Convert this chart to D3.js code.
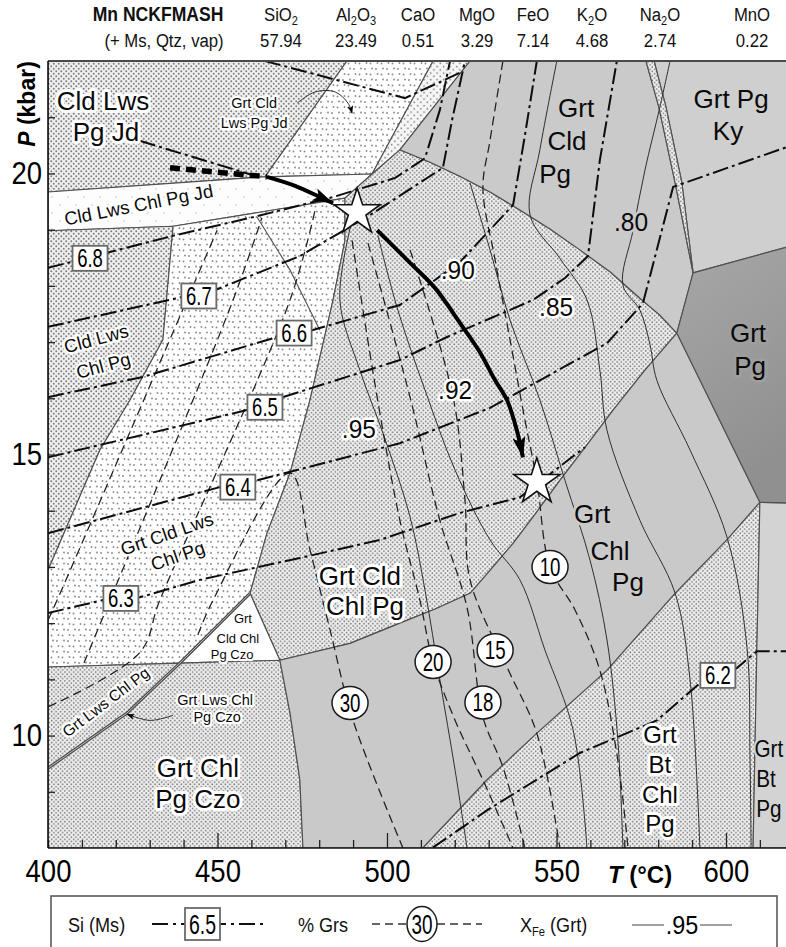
<!DOCTYPE html>
<html><head><meta charset="utf-8"><title>Mn NCKFMASH pseudosection</title>
<script src="https://cdn.jsdelivr.net/npm/d3@7/dist/d3.min.js"></script>
<style>
html,body{margin:0;padding:0;background:#fff;}
svg{display:block;}
</style></head><body>
<svg id="fig" width="786" height="947"></svg>
<script>
// ---------------- axis tick labels ----------------
const tempTickLabels = [400, 450, 500, 550, 600];
const pressureTickLabels = [10, 15, 20];

// ---------------- bulk composition (wt%) ----------------
const oxides = ["SiO2", "Al2O3", "CaO", "MgO", "FeO", "K2O", "Na2O", "MnO"];
const oxideWt = ["57.94", "23.49", "0.51", "3.29", "7.14", "4.68", "2.74", "0.22"];

// ---------------- field boundaries, [T °C, P kbar] ----------------
const upperArc = [[503.8,20.42],[512.7,20.20],[521.5,19.95],[530.4,19.67],[539.2,19.35],[548.1,19.01],[556.9,18.64],[565.8,18.25],[574.6,17.78],[580.5,17.48],[585.5,17.16]];
const lowerArc = [[585.5,17.16],[576.1,16.50],[566.7,15.79],[559.0,15.17],[551.0,14.54],[544.2,13.98],[537.2,13.42],[530.4,12.94],[524.5,12.53],[514.2,12.25],[503.8,12.00],[489.1,11.64],[468.4,11.34]];
const w2TopEdge = [[436.9,19.06],[462.5,19.31],[487.6,19.56]];
const w2LeftEdge = [[436.9,19.06],[433.9,17.04],[424.2,15.97],[415.3,15.08],[400,12.94]];
const w2RightEdge = [[459.6,12.53],[464.6,13.60],[471.4,14.67],[477.3,15.97],[484.1,17.75],[487.6,18.81],[487.6,19.56]];
const btInLine = [[610.0,14.15],[600.3,13.48],[585.0,12.53],[564.9,11.16],[544.2,10.04],[529.5,9.21],[510.6,8.0]];
const g3LeftEdge = [[468.4,11.34],[471.4,10.40],[474.3,9.21],[475.2,8.0]];
const btRightEdge = [[610.0,14.15],[609.1,11.52],[608.0,8.0]];
const czoDiagonal = [[400,9.42],[423.3,10.40],[438.9,11.29],[459.6,12.53]];
const kyBandLeft = [[576.4,22],[580.2,21.18],[585.0,19.83],[590.3,18.23]];
const kyBandRight = [[578.8,22],[582.3,21.18],[587.0,19.83],[590.3,18.23]];
const grtPgField = [[590.3,18.23],[618,18.69],[618,14.14],[610.0,14.15],[585.5,17.16]];
const cldLwsPgJdField = [[400,22],[488.2,22],[464.0,19.94],[400,19.67]];
const grtCldLwsPgJdField = [[488.2,22],[513.6,22],[495.6,19.99],[464.0,19.94]];
const upperBandField = [[513.6,22],[524.5,22],[503.8,20.42],[495.6,19.99]];
const czoTriangle = [[459.6,12.53],[468.4,11.34],[438.9,11.29]];
const grtLwsChlPgField = [[400,11.22],[438.9,11.29],[423.3,10.40],[400,9.42]];
const grtChlPgCzoField = [[400,9.42],[423.3,10.40],[438.9,11.29],[468.4,11.34],[471.4,10.40],[474.3,9.21],[475.2,8.0],[400,8.0]];
const grtBtPgField = [[610.0,14.15],[618,14.14],[618,8.0],[608.0,8.0],[609.1,11.52]];
const innerBoundary = [[461.7,19.22],[471.4,18.28],[480.2,17.21]];

// ---------------- Si (Ms) isopleths ----------------
const si69a = [[464.0,22],[505.3,21.34],[521.5,21.79]];
const si69b = [[427.1,20.58],[463.1,19.92]];
const si68 = [[400,18.32],[436.9,18.89],[461.7,19.24],[484.1,19.58],[502.4,19.92],[511.2,20.27],[515.6,21.13],[518.6,22]];
const si67 = [[400,17.27],[439.5,17.80],[449.9,17.94],[474.3,18.53],[495.0,19.26],[516.5,20.10],[519.2,20.95],[523.0,22]];
const si66 = [[400,16.02],[428.0,16.38],[467.6,17.09],[477.9,17.21],[503.8,17.66],[521.5,18.42],[537.2,19.44],[540.7,20.68],[544.2,22]];
const si65 = [[400,14.95],[458.7,15.79],[469.3,16.02],[503.8,16.68],[517.7,17.09],[543.1,17.75],[552.5,18.14],[559.3,18.53],[562.8,20.24],[567.8,22]];
const si64 = [[400,13.60],[450.7,14.42],[461.7,14.54],[503.8,15.20],[530.4,15.83],[564.9,16.98],[575.5,17.69],[584.4,19.76],[618,20.47]];
const si63 = [[400,12.18],[416.2,12.41],[427.1,12.46],[444.8,12.77],[474.3,13.16],[497.9,13.48],[521.5,13.96],[539.2,14.24],[558.4,15.13]];
const si62 = [[513.6,8.01],[529.5,8.67],[556.9,9.69],[579.6,10.27],[592.3,10.93],[603.2,11.20],[609.1,11.50],[618,11.50]];
const siLabels = [["6.8",412.4,18.49],["6.7",444.5,17.82],["6.6",472.6,17.16],["6.5",464.0,15.84],["6.4",456.0,14.42],["6.3",421.5,12.44],["6.2",597.6,11.07]];

// ---------------- % grossular isopleths ----------------
const grsA = [[400,12.05],[402.7,12.41],[441.0,17.75],[449.9,18.99]];
const grsB = [[410.6,11.29],[418.3,12.41],[454.6,17.75],[463.1,19.21]];
const grsC = [[400,10.51],[427.1,11.48],[433.0,12.41],[471.4,17.75],[478.8,19.35]];
const grs30 = [[444.2,11.79],[448.7,12.41],[471.4,14.67],[477.3,13.30],[483.2,11.88],[490.0,10.27],[504.7,8.0]];
const grs20 = [[489.7,18.81],[497.1,16.02],[503.8,13.83],[509.7,12.41],[513.6,11.31],[520.1,10.27],[528.3,9.21],[537.2,8.0]];
const grs18 = [[494.4,18.76],[506.8,16.02],[515.6,13.83],[523.6,12.28],[528.3,10.33],[534.2,9.44],[540.7,8.0]];
const grs15 = [[506.8,18.64],[519.5,16.02],[523.0,14.19],[524.5,12.77],[535.4,11.22],[544.2,10.04],[551.0,8.0]];
const grs10 = [[534.2,22],[530.4,20.59],[528.3,19.74],[531.9,18.46],[536.3,17.04],[540.7,15.61],[544.2,14.54],[548.1,13.00],[555.5,12.23],[562.8,11.16],[568.1,9.56],[571.1,8.0]];
const grsLabels = [["30",489.1,10.58],["20",513.6,11.31],["15",531.9,11.52],["18",528.3,10.59],["10",548.1,13.00]];

// ---------------- X_Fe (Grt) isopleths ----------------
const xfe95 = [[489.7,19.17],[486.1,17.75],[492.0,16.50],[498.8,15.38],[506.8,13.89],[511.2,12.59],[515.6,10.99],[520.1,9.38],[523.6,8.0]];
const xfe92 = [[497.3,18.90],[503.2,17.57],[511.2,16.15],[520.1,14.72],[530.4,13.48],[539.2,12.77],[546.6,11.52],[554.9,10.10],[559.0,8.0]];
const xfe90 = [[524.5,19.83],[530.4,18.64],[536.3,17.39],[545.1,15.97],[552.5,14.54],[559.9,13.12],[564.9,11.70],[568.1,9.92],[569.6,8.0]];
const xfe85 = [[550.1,22],[545.1,20.42],[542.2,19.26],[551.0,18.49],[559.0,17.75],[562.8,16.50],[564.9,15.43],[574.6,13.83],[585.0,12.53],[589.4,10.99],[592.3,8.0]];
const xfe80 = [[583.5,22],[580.5,21.18],[576.1,20.06],[572.6,18.99],[569.6,18.01],[574.6,17.57],[577.6,16.95],[579.6,16.32],[589.4,15.08],[600.3,13.53],[606.2,11.57],[607.1,9.56],[607.4,8.0]];
const xfeLabels = [[".95",491.7,15.45,"w"],[".92",520.1,16.15,"w"],[".90",520.9,18.28,"w"],[".85",549.9,17.62,"w"],[".80",572.0,19.14,"g"]];

// ---------------- P–T path ----------------
const ptProgradeDashed = [[436.0,20.10],[464.6,19.94]];
const ptPrograde = [[464.6,19.94],[472.9,19.78],[480.2,19.58],[484.1,19.47]];
const ptRetrograde = [[497.1,18.99],[506.8,18.41],[514.2,17.96],[521.5,17.34],[527.4,16.82],[531.9,16.32],[535.4,15.97],[538.3,15.43],[540.1,14.95]];
const ptStars = [[491.2,19.31],[544.2,14.51]];

// ---------------- leaders for small fields ----------------
const leaderJd = [[473.5,21.25],[478.8,21.45],[484.7,21.45],[488.5,21.25],[489.7,21.07]];
const leaderCzo = [[436.9,10.36],[430.1,10.27],[423.3,10.38]];

// ---------------- field names: lines [text, T, P], class, rotation, backdrop ----------------
const fieldLabels = [
  [[["Cld Lws",416.2,21.13],["Pg Jd",417.1,20.58]], "big", 0, "w"],
  [[["Grt Cld",460.8,21.16],["Lws Pg Jd",460.8,20.81]], "small", 0, "w"],
  [[["Cld Lws Chl Pg Jd",427.1,19.33]], "mid", -11, "w"],
  [[["Cld Lws",414.7,16.95],["Chl Pg",416.8,16.47]], "mid", -15, "w"],
  [[["Grt Cld Lws",435.7,13.48],["Chl Pg",438.9,13.09]], "mid", -19, "w"],
  [[["Grt Cld",492.0,12.68],["Chl Pg",493.5,12.14]], "big", 0, "w"],
  [[["Grt",555.8,21.00],["Cld",553.1,20.42],["Pg",549.6,19.83]], "big", 0, "g"],
  [[["Grt Pg",601.5,21.16],["Ky",600.6,20.59]], "big", 0, "k"],
  [[["Grt",606.5,17.00],["Pg",607.1,16.41]], "big", 0, "d"],
  [[["Grt",560.5,13.78],["Chl",565.8,13.12],["Pg",571.1,12.58]], "big", 0, "g"],
  [[["Grt",580.5,9.86],["Bt",580.5,9.33],["Chl",580.5,8.80],["Pg",580.5,8.29]], "bt", 0, "w"],
  [[["Grt",608.4,9.62],["Bt",608.9,9.08],["Pg",608.9,8.56]], "edge", 0, "b"],
  [[["Grt Chl",444.2,9.26],["Pg Czo",444.2,8.71]], "big", 0, "w"],
  [[["Grt Lws Chl",449.3,10.54],["Pg Czo",449.9,10.24]], "small", 0, "w"],
  [[["Grt",457.5,12.00],["Cld Chl",456.0,11.64],["Pg Czo",454.3,11.37]], "tiny", 0, "w"],
  [[["Grt Lws Chl Pg",418.0,10.52]], "diag", -37, "w"]
];

// ================= drawing =================
const svg = d3.select("#fig");
const x = d3.scaleLinear().domain([400, 618]).range([48, 787]);
const y = d3.scaleLinear().domain([8, 22]).range([848, 61]);
const lin = d3.line().x(d => x(d[0])).y(d => y(d[1]));
const smooth = d3.line().x(d => x(d[0])).y(d => y(d[1])).curve(d3.curveCatmullRom.alpha(0.5));
const SANS = "'Liberation Sans', Arial, Helvetica, sans-serif";

const defs = svg.append("defs");
function dotPattern(id, w, h, dots, r, dotColor, bg) {
  const p = defs.append("pattern").attr("id", id).attr("patternUnits", "userSpaceOnUse")
    .attr("width", w).attr("height", h);
  p.append("rect").attr("width", w).attr("height", h).attr("fill", bg);
  dots.forEach(([cx, cy]) => p.append("circle").attr("cx", cx).attr("cy", cy).attr("r", r).attr("fill", dotColor));
}
dotPattern("stipple", 4.4, 4.4, [[1.1,1.1],[3.3,3.3]], 0.84, "#747474", "#efefef");
dotPattern("stippleFine", 5, 5, [[1.25,1.25],[3.75,3.75]], 0.98, "#7e7e7e", "#efefef");
dotPattern("stippleMed", 6.5, 6.5, [[1.6,1.6],[4.85,4.85]], 0.88, "#858585", "#f6f6f6");
dotPattern("sparse", 11, 11, [[2,3],[7.5,8.5],[9,2.5],[3.5,8]], 0.95, "#8c8c8c", "#ffffff");
dotPattern("faint", 16, 16, [[4,5],[12,13]], 0.7, "#b8b8b8", "#fdfdfd");
const grad = defs.append("linearGradient").attr("id", "darkFill").attr("x1", 0).attr("y1", 0).attr("x2", 0.3).attr("y2", 1);
grad.append("stop").attr("offset", "0%").attr("stop-color", "#a7a7a7");
grad.append("stop").attr("offset", "100%").attr("stop-color", "#909090");

defs.append("clipPath").attr("id", "plotClip").append("rect")
  .attr("x", 48).attr("y", 61).attr("width", 739).attr("height", 787);

function head(id, w, h) {
  defs.append("marker").attr("id", id).attr("viewBox", `0 0 ${w} ${h}`)
    .attr("refX", w - 0.5).attr("refY", h / 2).attr("markerWidth", w).attr("markerHeight", h)
    .attr("markerUnits", "userSpaceOnUse").attr("orient", "auto")
    .append("path").attr("d", `M0,0 L${w},${h/2} L0,${h} L${w*0.22},${h/2} Z`).attr("fill", "#000");
}
head("headBig", 21, 13);
head("headSmall", 8, 6);

const plot = svg.append("g").attr("clip-path", "url(#plotClip)");

// ---- fields ----
const rev = a => a.slice().reverse();
const fields = [
  [cldLwsPgJdField, "url(#stippleFine)"],
  [grtCldLwsPgJdField, "url(#sparse)"],
  [upperBandField, "url(#stippleMed)"],
  [[[400,19.67],[464.0,19.94],[495.6,19.99], ...rev(w2TopEdge), [400,18.98]], "url(#faint)"],
  [[[400,18.98], ...w2LeftEdge], "url(#stippleFine)"],
  [[...w2TopEdge, ...rev(w2RightEdge).slice(1), [438.9,11.29],[400,11.22], ...rev(w2LeftEdge).slice(0,-1)], "url(#sparse)"],
  [[...upperArc, ...lowerArc.slice(1), ...w2RightEdge, [495.6,19.99]], "url(#stipple)"],
  [czoTriangle, "#ffffff"],
  [grtLwsChlPgField, "url(#stipple)"],
  [grtChlPgCzoField, "url(#stipple)"],
  [[...rev(lowerArc), ...btInLine, ...rev(g3LeftEdge)], "#c9c9c9"],
  [[...btRightEdge, ...rev(btInLine)], "url(#stipple)"],
  [grtBtPgField, "#d3d3d3"],
  [[[524.5,22], ...kyBandLeft, ...rev(upperArc)], "#cacaca"],
  [[[578.8,22],[618,22],[618,18.69], ...rev(kyBandRight)], "#cfcfcf"],
  [[...kyBandLeft, ...rev(kyBandRight.slice(0,-1))], "url(#stipple)"],
  [grtPgField, "url(#darkFill)"]
];
plot.selectAll("path.field").data(fields).join("path")
  .attr("class", "field")
  .attr("d", d => lin(d[0]) + "Z")
  .attr("fill", d => d[1])
  .attr("stroke", "#505050").attr("stroke-width", 1.15).attr("stroke-linejoin", "round");

plot.append("path").attr("d", lin(innerBoundary)).attr("fill", "none").attr("stroke", "#505050").attr("stroke-width", 1.1);
plot.append("path").attr("d", lin(czoDiagonal)).attr("fill", "none").attr("stroke", "#4a4a4a").attr("stroke-width", 3);
plot.append("path").attr("d", lin(czoDiagonal)).attr("fill", "none").attr("stroke", "#dcdcdc").attr("stroke-width", 0.8);

// ---- X_Fe isopleths ----
plot.selectAll("path.xfe").data([xfe95, xfe92, xfe90, xfe85, xfe80]).join("path")
  .attr("class", "xfe").attr("d", smooth).attr("fill", "none")
  .attr("stroke", "#2e2e2e").attr("stroke-width", 1);

// ---- % Grs isopleths ----
plot.selectAll("path.grs").data([grsA, grsB, grsC, grs30, grs20, grs18, grs15, grs10]).join("path")
  .attr("class", "grs").attr("d", smooth).attr("fill", "none")
  .attr("stroke", "#1e1e1e").attr("stroke-width", 1.25).attr("stroke-dasharray", "9,5");

// ---- Si (Ms) isopleths ----
plot.selectAll("path.si").data([si69a, si69b, si68, si67, si66, si65, si64, si63, si62]).join("path")
  .attr("class", "si").attr("d", lin).attr("fill", "none")
  .attr("stroke", "#0d0d0d").attr("stroke-width", 2).attr("stroke-dasharray", "16,4,3,4");

// ---- leaders ----
plot.append("path").attr("d", smooth(leaderJd)).attr("fill", "none").attr("stroke", "#333").attr("stroke-width", 1).attr("marker-end", "url(#headSmall)");
plot.append("path").attr("d", smooth(leaderCzo)).attr("fill", "none").attr("stroke", "#333").attr("stroke-width", 1).attr("marker-end", "url(#headSmall)");

// ---- text helpers (horizontal squeeze for condensed faces) ----
function addText(parent, px, py, str, o = {}) {
  const g = parent.append("g").attr("transform", `translate(${px},${py})${o.rotate ? ` rotate(${o.rotate})` : ""}`);
  const t = g.append("text")
    .attr("transform", `scale(${o.sx || 1},1)`)
    .attr("text-anchor", o.anchor || "middle")
    .attr("font-family", o.family || SANS)
    .attr("font-size", o.size || 16)
    .attr("font-weight", o.weight || "normal")
    .attr("font-style", o.style || "normal")
    .attr("fill", o.fill || "#111");
  if (o.halo) t.attr("stroke", o.halo).attr("stroke-width", o.haloW || 5)
    .attr("stroke-linejoin", "round").attr("paint-order", "stroke");
  t.text(str);
  return t;
}
function addRich(parent, px, py, parts, o = {}) {
  const t = parent.append("text")
    .attr("transform", `translate(${px},${py}) scale(${o.sx || 1},1)`)
    .attr("text-anchor", o.anchor || "middle")
    .attr("font-family", o.family || SANS)
    .attr("font-size", o.size || 16)
    .attr("font-weight", o.weight || "normal")
    .attr("fill", o.fill || "#111");
  let shifted = false;
  parts.forEach(([s, sub]) => {
    const ts = t.append("tspan").text(s);
    if (sub) { ts.attr("font-size", (o.size || 16) * 0.66); if (!shifted) { ts.attr("dy", o.subDy || 4); shifted = true; } }
    else if (shifted) { ts.attr("dy", -(o.subDy || 4)); shifted = false; }
  });
  return t;
}
function chem(s) { return s.split(/(\d+)/).filter(p => p).map(p => [p, /^\d+$/.test(p)]); }

// ---- field names: one text element per field, one tspan per line ----
const labelSize = { big: 26, bt: 24, edge: 23, mid: 18.5, small: 14.5, tiny: 13, diag: 15.5 };
const backdrop = { w: "#ffffff", g: "#cacaca", k: "#cfcfcf", d: "#9e9e9e", b: "#d3d3d3" };
const labelLayer = svg.append("g").attr("clip-path", "url(#plotClip)");
fieldLabels.forEach(([lines, cls, rot, bg]) => {
  const px = x(lines[0][1]), py = y(lines[0][2]);
  const sx = cls === "edge" ? 0.9 : 1;
  const t = labelLayer.append("g").attr("transform", `translate(${px},${py}) rotate(${rot})`)
    .append("text")
    .attr("transform", `scale(${sx},1)`)
    .attr("text-anchor", cls === "edge" ? "start" : "middle")
    .attr("font-family", SANS).attr("font-size", labelSize[cls]).attr("fill", "#0a0a0a")
    .attr("stroke", backdrop[bg]).attr("stroke-width", cls === "big" || cls === "bt" ? 6 : 4.5)
    .attr("stroke-linejoin", "round").attr("paint-order", "stroke");
  const a = -rot * Math.PI / 180;
  lines.forEach(([s, T, P]) => {
    const dx = x(T) - px, dy = y(P) - py;
    const u = dx * Math.cos(a) - dy * Math.sin(a);
    const v = dx * Math.sin(a) + dy * Math.cos(a);
    t.append("tspan").attr("x", u / sx).attr("y", v).text(s);
  });
});

// ---- isopleth tags ----
const tagLayer = svg.append("g");
xfeLabels.forEach(([txt, T, P, bg]) => {
  addText(tagLayer, x(T), y(P) + 9, txt, { size: 25, sx: 0.98, halo: backdrop[bg], haloW: 5, fill: "#0a0a0a" });
});
siLabels.forEach(([txt, T, P]) => {
  const cx = x(T), cy = y(P);
  tagLayer.append("rect").attr("x", cx - 17.5).attr("y", cy - 12.5).attr("width", 35).attr("height", 25)
    .attr("fill", "#fff").attr("stroke", "#6a6a6a").attr("stroke-width", 1.8);
  addText(tagLayer, cx, cy + 9, txt, { size: 25, sx: 0.74, fill: "#000" });
});
grsLabels.forEach(([txt, T, P]) => {
  const cx = x(T), cy = y(P);
  tagLayer.append("ellipse").attr("cx", cx).attr("cy", cy).attr("rx", 18).attr("ry", 16.5)
    .attr("fill", "#fff").attr("stroke", "#1a1a1a").attr("stroke-width", 1.5);
  addText(tagLayer, cx, cy + 9, txt, { size: 26, sx: 0.72, fill: "#000" });
});

// ---- P–T path and stars ----
const pt = svg.append("g");
pt.append("path").attr("d", lin(ptProgradeDashed)).attr("fill", "none").attr("stroke", "#000")
  .attr("stroke-width", 5.5).attr("stroke-dasharray", "10,6");
pt.append("path").attr("d", smooth(ptPrograde)).attr("fill", "none").attr("stroke", "#000")
  .attr("stroke-width", 4).attr("marker-end", "url(#headBig)");
pt.append("path").attr("d", smooth(ptRetrograde)).attr("fill", "none").attr("stroke", "#000")
  .attr("stroke-width", 4).attr("marker-end", "url(#headBig)");
pt.selectAll("path.star").data(ptStars).join("path").attr("class", "star")
  .attr("d", d3.symbol(d3.symbolStar, 660)())
  .attr("transform", d => `translate(${x(d[0])},${y(d[1])})`)
  .attr("fill", "#fff").attr("stroke", "#111").attr("stroke-width", 1.6).attr("stroke-linejoin", "miter");

// ---- axes ----
const xAxis = d3.axisBottom(x).tickValues(d3.range(400, 611, 10)).tickSize(-8).tickPadding(11)
  .tickFormat(d => tempTickLabels.includes(d) ? d : "");
const gx = svg.append("g").attr("transform", "translate(0,848)").call(xAxis);
gx.select(".domain").remove();
gx.selectAll(".tick line").attr("stroke", "#222").attr("stroke-width", 1.3)
  .attr("y2", d => tempTickLabels.includes(d) && d !== 400 ? -15 : -8);
gx.selectAll(".tick text").attr("font-family", SANS).attr("font-size", 32).attr("fill", "#000")
  .attr("transform", "scale(0.86,1)");

const yAxis = d3.axisLeft(y).tickValues(d3.range(9, 22, 1)).tickSize(-7).tickPadding(7)
  .tickFormat(d => pressureTickLabels.includes(d) ? d : "");
const gy = svg.append("g").attr("transform", "translate(48,0)").call(yAxis);
gy.select(".domain").remove();
gy.selectAll(".tick line").attr("stroke", "#222").attr("stroke-width", 1.3);
gy.selectAll(".tick text").attr("font-family", SANS).attr("font-size", 32).attr("fill", "#000")
  .attr("transform", "scale(0.86,1)");

svg.append("line").attr("x1", 48).attr("x2", 786).attr("y1", 61).attr("y2", 61).attr("stroke", "#4a4a4a").attr("stroke-width", 2);
svg.append("line").attr("x1", 48).attr("x2", 48).attr("y1", 61).attr("y2", 848).attr("stroke", "#111").attr("stroke-width", 1.6);
svg.append("line").attr("x1", 48).attr("x2", 786).attr("y1", 848).attr("y2", 848).attr("stroke", "#111").attr("stroke-width", 1.6);

// axis titles
const pLab = svg.append("text").attr("transform", "translate(35,104) rotate(-90)")
  .attr("text-anchor", "middle").attr("font-family", SANS).attr("font-size", 23).attr("font-weight", "bold");
pLab.append("tspan").attr("font-style", "italic").text("P");
pLab.append("tspan").text(" (kbar)");
const tLab = svg.append("text").attr("transform", "translate(640,883)")
  .attr("text-anchor", "middle").attr("font-family", SANS).attr("font-size", 24).attr("font-weight", "bold");
tLab.append("tspan").attr("font-style", "italic").text("T");
tLab.append("tspan").text(" (°C)");

// ---- composition header ----
const hdr = svg.append("g");
addText(hdr, 158, 21, "Mn NCKFMASH", { size: 19.5, weight: "bold", sx: 0.9, fill: "#111" });
addText(hdr, 164, 47, "(+ Ms, Qtz, vap)", { size: 19, sx: 0.88, fill: "#111" });
const oxideX = [281, 356, 418, 477, 533, 592, 660, 752];
oxides.forEach((ox, i) => {
  addRich(hdr, oxideX[i], 21, chem(ox), { size: 19, sx: 0.88, subDy: 4 });
  addText(hdr, oxideX[i], 47, oxideWt[i], { size: 19, sx: 0.88, fill: "#111" });
});

// ---- legend ----
const lg = svg.append("g");
lg.append("rect").attr("x", 51).attr("y", 896).attr("width", 726).attr("height", 70)
  .attr("fill", "#fff").attr("stroke", "#5a5a5a").attr("stroke-width", 1.6);
addText(lg, 68, 932, "Si (Ms)", { size: 21, sx: 0.86, anchor: "start" });
lg.append("line").attr("x1", 152).attr("x2", 264).attr("y1", 924).attr("y2", 924)
  .attr("stroke", "#111").attr("stroke-width", 2.2).attr("stroke-dasharray", "16,5,3,5");
lg.append("rect").attr("x", 185).attr("y", 908).attr("width", 35).attr("height", 32)
  .attr("fill", "#fff").attr("stroke", "#6a6a6a").attr("stroke-width", 1.8);
addText(lg, 202.5, 934, "6.5", { size: 27, sx: 0.72, fill: "#000" });
addText(lg, 298, 932, "% Grs", { size: 21, sx: 0.86, anchor: "start" });
lg.append("line").attr("x1", 372).attr("x2", 482).attr("y1", 924).attr("y2", 924)
  .attr("stroke", "#333").attr("stroke-width", 1.6).attr("stroke-dasharray", "8,5");
lg.append("ellipse").attr("cx", 422).attr("cy", 924).attr("rx", 15).attr("ry", 17.5)
  .attr("fill", "#fff").attr("stroke", "#1a1a1a").attr("stroke-width", 1.5);
addText(lg, 422, 934, "30", { size: 27, sx: 0.7, fill: "#000" });
const xfeLeg = lg.append("text").attr("transform", "translate(520,932) scale(0.86,1)")
  .attr("font-family", SANS).attr("font-size", 21).attr("fill", "#111");
xfeLeg.append("tspan").text("X");
xfeLeg.append("tspan").attr("dy", 4).attr("font-size", 13).text("Fe");
xfeLeg.append("tspan").attr("dy", -4).text(" (Grt)");
lg.append("line").attr("x1", 632).attr("x2", 664).attr("y1", 925).attr("y2", 925).attr("stroke", "#777").attr("stroke-width", 1.4);
addText(lg, 682, 934, ".95", { size: 26, sx: 0.9, fill: "#000" });
lg.append("line").attr("x1", 700).attr("x2", 732).attr("y1", 925).attr("y2", 925).attr("stroke", "#777").attr("stroke-width", 1.4);
</script>
</body></html>
